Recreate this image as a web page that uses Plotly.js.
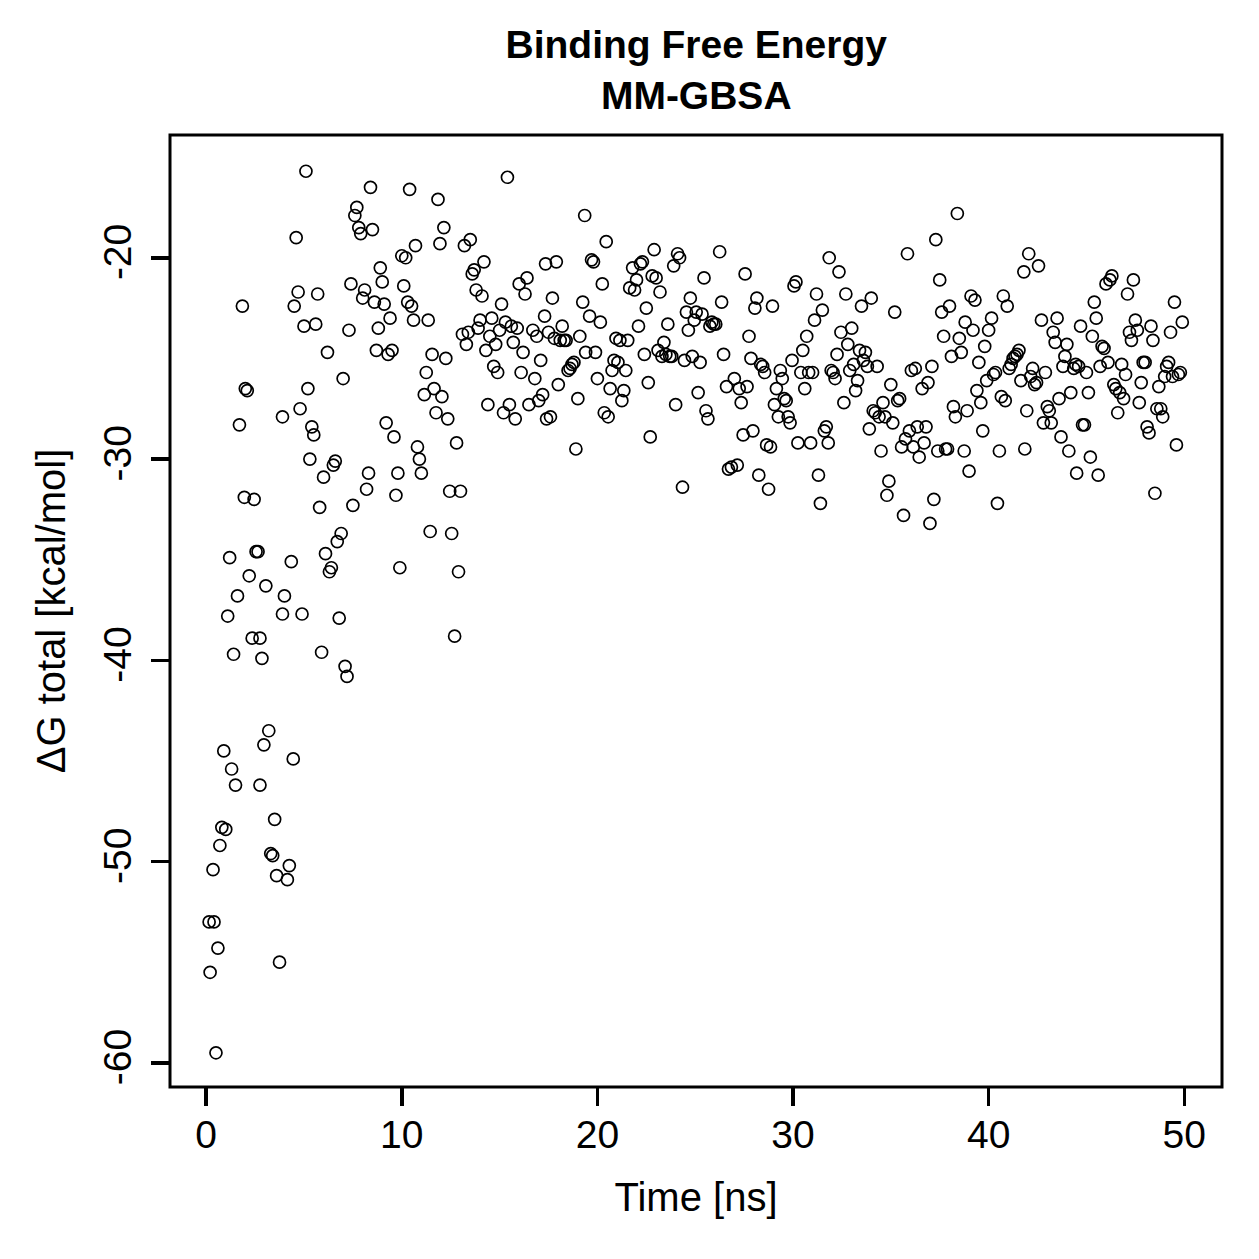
<!DOCTYPE html>
<html><head><meta charset="utf-8">
<script src="https://cdn.plot.ly/plotly-3.0.1.min.js"></script>
<style>html,body{margin:0;padding:0;background:#fff}#chart{width:1259px;height:1259px}</style>
</head><body><div id="chart"></div>
<script>
const time = [0.15,0.4,0.2,0.35,0.6,0.5,0.7,0.8,1.0,0.9,1.3,1.5,1.1,1.2,1.4,1.6,1.7,1.85,1.95,2.0,2.1,2.2,2.35,2.45,2.55,2.65,2.75,2.85,2.75,2.95,3.05,3.2,3.3,3.4,3.5,3.6,3.75,3.9,4.0,3.9,4.15,4.25,4.35,4.45,4.5,4.6,4.7,4.8,4.9,5.0,5.1,5.2,5.3,5.4,5.5,5.6,5.7,5.8,5.9,6.0,6.1,6.2,6.3,6.4,6.5,6.6,6.7,6.8,6.9,7.0,7.1,7.2,7.3,7.4,7.5,7.6,7.7,7.8,7.9,8.0,8.1,8.2,8.3,8.4,8.5,8.6,8.7,8.8,8.9,9.0,9.1,9.2,9.3,9.4,9.5,9.6,9.7,9.8,9.9,10.0,10.1,10.2,10.3,10.4,10.5,10.6,10.7,10.8,10.9,11.0,11.15,11.25,11.35,11.45,11.55,11.65,11.75,11.85,11.95,12.05,12.15,12.25,12.35,12.45,12.55,12.7,12.8,12.9,13.0,13.1,13.2,13.3,13.4,13.5,13.6,13.7,13.8,13.9,14.0,14.1,14.2,14.3,14.4,14.5,14.6,14.7,14.8,14.9,15.0,15.1,15.2,15.3,15.4,15.5,15.6,15.7,15.8,15.9,16.0,16.1,16.2,16.3,16.4,16.5,16.7,16.8,16.9,17.0,17.1,17.2,17.3,17.35,17.4,17.5,17.6,17.7,17.8,17.9,18.0,18.1,18.2,18.3,18.4,18.5,18.6,18.7,18.8,18.9,19.0,19.1,19.25,19.35,19.4,19.6,19.7,19.8,19.9,20.0,20.15,20.25,20.35,20.45,20.55,20.65,20.75,20.85,20.95,21.05,21.15,21.25,21.35,21.45,21.55,21.65,21.8,21.9,22.0,22.1,22.2,22.3,22.4,22.5,22.6,22.7,22.8,22.9,23.0,23.1,23.2,23.3,23.4,23.5,23.6,23.7,23.8,23.9,24.0,24.1,24.2,24.35,24.45,24.55,24.65,24.75,24.85,24.95,25.05,25.15,25.25,25.35,25.45,25.55,25.65,25.75,25.85,25.95,26.05,26.25,26.35,26.45,26.6,26.7,26.85,27.0,27.15,27.25,27.35,27.45,27.55,27.65,27.75,27.85,27.95,28.05,28.15,28.25,28.35,28.45,28.55,28.65,28.75,28.85,28.95,29.05,29.15,29.25,29.35,29.45,29.55,29.65,29.75,29.85,29.95,30.05,30.15,30.25,30.4,30.5,30.6,30.7,30.8,30.9,31.0,31.1,31.2,31.3,31.4,31.5,31.6,31.7,31.8,31.85,31.95,32.05,32.15,32.25,32.35,32.45,32.6,32.7,32.8,32.9,33.0,33.1,33.2,33.3,33.4,33.5,33.6,33.7,33.8,33.9,34.0,34.1,34.2,34.3,34.4,34.5,34.6,34.7,34.8,34.9,35.0,35.1,35.2,35.35,35.45,35.55,35.65,35.75,35.85,35.95,36.05,36.15,36.25,36.35,36.45,36.6,36.7,36.8,36.9,37.0,37.1,37.2,37.3,37.4,37.5,37.6,37.7,37.8,37.9,38.0,38.1,38.2,38.3,38.4,38.5,38.6,38.75,38.8,38.9,39.0,39.1,39.2,39.3,39.4,39.5,39.6,39.7,39.8,39.9,40.0,40.15,40.25,40.35,40.45,40.55,40.65,40.75,40.85,40.95,41.05,41.15,41.25,41.35,41.45,41.55,41.65,41.8,41.85,41.95,42.05,42.15,42.25,42.35,42.45,42.55,42.7,42.8,42.9,43.0,43.1,43.2,43.3,43.4,43.5,43.6,43.7,43.8,43.9,44.0,44.1,44.2,44.35,44.45,44.5,44.6,44.7,44.8,44.9,45.0,45.1,45.2,45.3,45.4,45.5,45.6,45.7,45.8,45.9,46.0,46.1,46.2,46.3,46.4,46.5,46.6,46.7,46.8,46.9,47.0,47.1,47.2,47.3,47.4,47.5,47.6,47.7,47.8,47.9,48.0,48.1,48.2,48.3,48.4,48.5,48.6,48.7,48.8,48.9,49.0,49.1,49.2,49.3,49.4,49.5,49.6,49.7,49.8,49.9];
const dG = [-53.0,-53.0,-55.5,-50.4,-54.3,-59.5,-49.2,-48.3,-48.4,-44.5,-45.4,-46.2,-37.8,-34.9,-39.7,-36.8,-28.3,-22.4,-31.9,-26.5,-26.6,-35.8,-38.9,-32.0,-34.6,-34.6,-38.9,-39.9,-46.2,-44.2,-36.3,-43.5,-49.6,-49.7,-47.9,-50.7,-55.0,-27.9,-36.8,-37.7,-50.9,-50.2,-35.1,-44.9,-22.4,-19.0,-21.7,-27.5,-37.7,-23.4,-15.7,-26.5,-30.0,-28.4,-28.8,-23.3,-21.8,-32.4,-39.6,-30.9,-34.7,-24.7,-35.6,-35.4,-30.3,-30.1,-34.1,-37.9,-33.7,-26.0,-40.3,-40.8,-23.6,-21.3,-32.3,-17.9,-17.5,-18.5,-18.8,-22.0,-21.6,-31.5,-30.7,-16.5,-18.6,-22.2,-24.6,-23.5,-20.5,-21.2,-22.3,-28.2,-24.8,-23.0,-24.6,-28.9,-31.8,-30.7,-35.4,-19.9,-21.4,-20.0,-22.2,-16.6,-22.4,-23.1,-19.4,-29.4,-30.0,-30.7,-26.8,-25.7,-23.1,-33.6,-24.8,-26.5,-27.7,-17.1,-19.3,-26.9,-18.5,-25.0,-28.0,-31.6,-33.7,-38.8,-29.2,-35.6,-31.6,-23.8,-19.4,-24.3,-23.7,-19.1,-20.8,-20.6,-21.6,-23.5,-23.1,-21.9,-20.2,-24.6,-27.3,-23.9,-23.0,-25.4,-24.3,-25.7,-23.6,-22.3,-27.7,-23.2,-16.0,-27.3,-23.4,-24.2,-28.0,-23.5,-21.3,-25.7,-24.7,-21.8,-21.0,-27.3,-23.6,-26.0,-23.9,-27.1,-25.1,-26.8,-22.9,-20.3,-28.0,-23.7,-27.9,-22.0,-24.0,-20.2,-26.3,-24.1,-23.4,-24.1,-24.1,-25.6,-25.5,-25.3,-25.2,-29.5,-27.0,-23.9,-22.2,-17.9,-24.7,-22.9,-20.1,-20.2,-24.7,-26.0,-23.2,-21.3,-27.7,-19.2,-27.9,-26.5,-25.6,-25.1,-24.0,-25.2,-24.1,-27.1,-26.6,-25.6,-24.1,-21.5,-20.5,-21.6,-21.1,-23.4,-20.3,-20.2,-24.8,-22.5,-26.2,-28.9,-20.9,-19.6,-21.0,-24.6,-21.7,-24.9,-24.2,-24.8,-23.3,-24.9,-24.9,-20.4,-27.3,-19.8,-20.0,-31.4,-25.1,-22.7,-23.6,-22.0,-24.9,-23.1,-22.7,-26.7,-25.2,-22.8,-21.0,-27.6,-28.0,-23.4,-23.2,-23.3,-23.3,-19.7,-22.2,-24.8,-26.4,-30.5,-30.4,-26.0,-30.3,-26.5,-27.2,-28.8,-20.8,-26.4,-23.9,-25.0,-28.6,-22.5,-22.0,-30.8,-25.3,-25.4,-25.7,-29.3,-31.5,-29.4,-22.4,-27.3,-26.5,-27.9,-25.6,-26.0,-27.0,-27.1,-27.9,-28.2,-25.1,-21.4,-21.2,-29.2,-25.7,-24.6,-26.5,-23.9,-25.7,-29.2,-25.7,-23.1,-21.8,-30.8,-32.2,-22.6,-28.6,-28.4,-29.2,-20.0,-25.6,-25.7,-26.0,-24.8,-20.7,-23.7,-27.2,-21.8,-24.3,-25.6,-23.5,-25.3,-26.6,-26.1,-24.6,-22.4,-25.1,-24.7,-25.4,-28.5,-22.0,-27.6,-27.7,-25.4,-27.9,-29.6,-27.2,-27.9,-31.8,-31.1,-26.3,-28.2,-22.7,-27.1,-27.0,-29.4,-32.8,-29.0,-19.8,-28.6,-25.6,-29.4,-25.5,-28.4,-29.9,-26.5,-29.2,-28.4,-26.2,-33.2,-25.4,-32.0,-19.1,-29.6,-21.1,-22.7,-23.9,-29.5,-29.5,-22.4,-24.9,-27.4,-27.9,-17.8,-24.0,-24.7,-29.6,-23.2,-27.6,-30.6,-21.9,-23.6,-22.1,-26.6,-25.2,-27.2,-28.6,-24.4,-26.1,-23.6,-23.0,-25.8,-25.7,-32.2,-29.6,-26.9,-21.9,-27.1,-22.4,-25.5,-25.3,-25.0,-24.9,-24.8,-24.6,-26.1,-20.7,-29.5,-27.6,-19.8,-25.9,-25.5,-26.3,-26.2,-20.4,-23.1,-28.2,-25.7,-27.4,-27.6,-28.2,-23.7,-24.2,-23.0,-27.0,-28.9,-25.4,-24.9,-24.3,-29.6,-26.7,-25.5,-25.3,-30.7,-25.4,-23.4,-28.3,-28.3,-25.7,-26.7,-29.9,-23.9,-22.2,-23.0,-30.8,-25.4,-24.4,-24.5,-21.3,-25.2,-21.1,-20.9,-26.3,-26.5,-27.7,-26.7,-25.3,-27.0,-25.8,-21.8,-23.7,-24.1,-21.1,-23.1,-23.6,-27.2,-26.2,-25.2,-25.2,-28.4,-28.7,-23.4,-24.1,-31.7,-27.5,-26.4,-27.5,-27.9,-25.9,-25.4,-25.2,-23.7,-25.9,-22.2,-29.3,-25.8,-25.7,-23.2];
const xTicks = [0,10,20,30,40,50];
const yTicks = [-60,-50,-40,-30,-20];
const titleText = "<b>Binding Free Energy</b><br><b>MM-GBSA</b>";
const xTitle = "Time [ns]";
const yTitle = "ΔG total [kcal/mol]";

const font = "Liberation Sans, Arial, sans-serif";
const trace = {
  x: time, y: dG, type: 'scatter', mode: 'markers',
  marker: {symbol: 'circle-open', size: 12, color: '#000', line: {width: 1.7, color: '#000'}},
  hoverinfo: 'x+y'
};
const layout = {
  width: 1259, height: 1259,
  margin: {l: 170, r: 37, t: 135, b: 172},
  paper_bgcolor: '#fff', plot_bgcolor: '#fff',
  showlegend: false,
  font: {family: font, size: 39, color: '#000'},
  title: {text: titleText, x: 0.553, xanchor: 'center', y: 0.954, yanchor: 'top', yref: 'container',
          font: {family: font, size: 39, color: '#000'}},
  xaxis: {range: [-1.85, 51.93], tickvals: xTicks, ticktext: xTicks.map(String),
          showgrid: false, zeroline: false, showline: false, ticks: 'outside', ticklen: 18, tickwidth: 3.5, tickcolor: '#000',
          ticklabelstandoff: -5,
          tickfont: {family: font, size: 39}, title: {text: xTitle, font: {family: font, size: 40}, standoff: 28}},
  yaxis: {range: [-61.2, -13.9], tickvals: yTicks, ticktext: yTicks.map(String), tickangle: -90,
          showgrid: false, zeroline: false, showline: false, ticks: 'outside', ticklen: 18, tickwidth: 3.5, tickcolor: '#000',
          ticklabelstandoff: 4,
          tickfont: {family: font, size: 39}, title: {text: yTitle, font: {family: font, size: 40}, standoff: 18}},
  shapes: [{type: 'rect', xref: 'paper', yref: 'paper', x0: 0, x1: 1, y0: 0, y1: 1, line: {color: '#000', width: 3}}]
};
Plotly.newPlot('chart', [trace], layout, {displayModeBar: false, staticPlot: true});
</script></body></html>
